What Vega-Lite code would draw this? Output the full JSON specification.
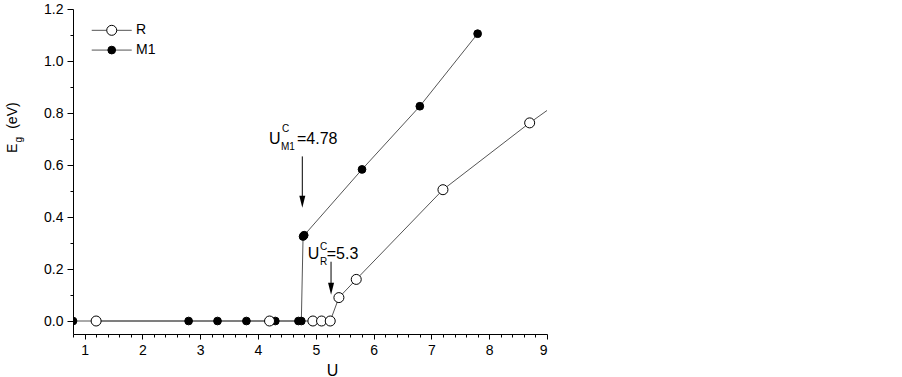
{
  "$schema": "https://vega.github.io/schema/vega-lite/v6.json",
  "width": 474,
  "height": 325,
  "autosize": {"type": "none"},
  "padding": {"left": 73, "top": 9, "right": 355, "bottom": 43},
  "background": "white",
  "config": {
    "view": {"stroke": null},
    "font": "Liberation Sans",
    "axis": {
      "grid": false,
      "domainColor": "#000",
      "tickColor": "#000",
      "labelColor": "#000",
      "titleColor": "#000",
      "labelFont": "Liberation Sans",
      "titleFont": "Liberation Sans",
      "labelFontSize": 14,
      "domainWidth": 1,
      "tickWidth": 1
    }
  },
  "datasets": {
    "main": [
      {"series": "M1", "x": 0.8, "y": 0},
      {"series": "M1", "x": 2.8, "y": 0},
      {"series": "M1", "x": 3.3, "y": 0},
      {"series": "M1", "x": 3.8, "y": 0},
      {"series": "M1", "x": 4.3, "y": 0},
      {"series": "M1", "x": 4.7, "y": 0},
      {"series": "M1", "x": 4.75, "y": 0},
      {"series": "M1", "x": 4.78, "y": 0.325},
      {"series": "M1", "x": 4.8, "y": 0.33},
      {"series": "M1", "x": 5.8, "y": 0.583},
      {"series": "M1", "x": 6.8, "y": 0.826},
      {"series": "M1", "x": 7.8, "y": 1.105},
      {"series": "R", "x": 1.2, "y": 0},
      {"series": "R", "x": 4.2, "y": 0},
      {"series": "R", "x": 4.95, "y": 0},
      {"series": "R", "x": 5.1, "y": 0},
      {"series": "R", "x": 5.25, "y": 0},
      {"series": "R", "x": 5.4, "y": 0.09},
      {"series": "R", "x": 5.7, "y": 0.16},
      {"series": "R", "x": 7.2, "y": 0.505},
      {"series": "R", "x": 8.7, "y": 0.762},
      {"series": "R", "x": 10.2, "y": 1.0}
    ]
  },
  "resolve": {"axis": {"x": "independent", "y": "independent"}},
  "layer": [
    {
      "data": {"name": "main"},
      "mark": {"type": "line", "color": "#555", "strokeWidth": 1, "clip": true},
      "encoding": {
        "x": {"field": "x", "type": "quantitative", "scale": {"domain": [0.8, 9], "nice": false, "zero": false},
          "axis": {"orient": "bottom", "values": [1, 2, 3, 4, 5, 6, 7, 8, 9], "tickSize": 5, "labelPadding": 4,
            "title": "U", "titleFontSize": 16, "titleFontWeight": "normal", "titleX": 259, "titleY": 41, "titleBaseline": "alphabetic"}},
        "y": {"field": "y", "type": "quantitative", "scale": {"domain": [-0.05, 1.2], "nice": false, "zero": false},
          "axis": {"orient": "left", "values": [0, 0.2, 0.4, 0.6, 0.8, 1.0, 1.2], "format": ".1f", "tickSize": 6, "labelPadding": 4, "title": null}},
        "detail": {"field": "series"}
      }
    },
    {
      "data": {"name": "main"},
      "mark": {"type": "point", "filled": true, "stroke": "#000", "strokeWidth": 1, "opacity": 1, "clip": true},
      "encoding": {
        "x": {"field": "x", "type": "quantitative", "scale": {"domain": [0.8, 9], "nice": false, "zero": false},
          "axis": {"orient": "bottom", "values": [0.8, 1.2, 1.4, 1.6, 1.8, 2.2, 2.4, 2.6, 2.8, 3.2, 3.4, 3.6, 3.8, 4.2, 4.4, 4.6, 4.8, 5.2, 5.4, 5.6, 5.8, 6.2, 6.4, 6.6, 6.8, 7.2, 7.4, 7.6, 7.8, 8.2, 8.4, 8.6, 8.8], "tickSize": 3, "labels": false, "domain": false, "title": null}},
        "y": {"field": "y", "type": "quantitative", "scale": {"domain": [-0.05, 1.2], "nice": false, "zero": false},
          "axis": {"orient": "left", "values": [0.1, 0.3, 0.5, 0.7, 0.9, 1.1], "tickSize": 3, "labels": false, "domain": false, "title": null}},
        "fill": {"field": "series", "type": "nominal", "scale": {"domain": ["R", "M1"], "range": ["#ffffff", "#000000"]}, "legend": null},
        "size": {"field": "series", "type": "nominal", "scale": {"domain": ["R", "M1"], "range": [100, 60]}, "legend": null}
      }
    },
    {
      "data": {"values": [
        {"x": 4.767, "y": 0.633, "y2": 0.459},
        {"x": 5.264, "y": 0.228, "y2": 0.124}
      ]},
      "mark": {"type": "rule", "color": "#000", "strokeWidth": 1},
      "encoding": {
        "x": {"field": "x", "type": "quantitative", "scale": {"domain": [0.8, 9], "nice": false, "zero": false}, "axis": null},
        "y": {"field": "y", "type": "quantitative", "scale": {"domain": [-0.05, 1.2], "nice": false, "zero": false}, "axis": null},
        "y2": {"field": "y2"}
      }
    },
    {
      "data": {"values": [
        {"x": 4.767, "y": 0.459},
        {"x": 5.264, "y": 0.124}
      ]},
      "mark": {"type": "point", "shape": "M-0.5,-1L0.5,-1L0,1Z", "filled": true, "color": "#000", "opacity": 1, "size": 144},
      "encoding": {
        "x": {"field": "x", "type": "quantitative", "scale": {"domain": [0.8, 9], "nice": false, "zero": false}, "axis": null},
        "y": {"field": "y", "type": "quantitative", "scale": {"domain": [-0.05, 1.2], "nice": false, "zero": false}, "axis": null}
      }
    },
    {
      "data": {"values": [
        {"x": 4.191, "y": 0.68, "t": "U"},
        {"x": 4.675, "y": 0.68, "t": "=4.78"},
        {"x": 4.86, "y": 0.239, "t": "U"},
        {"x": 5.189, "y": 0.239, "t": "=5.3"}
      ]},
      "mark": {"type": "text", "align": "left", "baseline": "alphabetic", "fontSize": 16, "color": "#000", "font": "Liberation Sans"},
      "encoding": {
        "x": {"field": "x", "type": "quantitative", "scale": {"domain": [0.8, 9], "nice": false, "zero": false}, "axis": null},
        "y": {"field": "y", "type": "quantitative", "scale": {"domain": [-0.05, 1.2], "nice": false, "zero": false}, "axis": null},
        "text": {"field": "t"}
      }
    },
    {
      "data": {"values": [
        {"x": 4.416, "y": 0.726, "t": "C"},
        {"x": 4.399, "y": 0.656, "t": "M1"},
        {"x": 5.073, "y": 0.274, "t": "C"},
        {"x": 5.073, "y": 0.216, "t": "R"}
      ]},
      "mark": {"type": "text", "align": "left", "baseline": "alphabetic", "fontSize": 10, "color": "#000", "font": "Liberation Sans"},
      "encoding": {
        "x": {"field": "x", "type": "quantitative", "scale": {"domain": [0.8, 9], "nice": false, "zero": false}, "axis": null},
        "y": {"field": "y", "type": "quantitative", "scale": {"domain": [-0.05, 1.2], "nice": false, "zero": false}, "axis": null},
        "text": {"field": "t"}
      }
    },
    {
      "data": {"values": [
        {"series": "R", "x": 1.124, "x2": 1.816, "y": 1.118},
        {"series": "M1", "x": 1.124, "x2": 1.816, "y": 1.042}
      ]},
      "mark": {"type": "rule", "color": "#555", "strokeWidth": 1},
      "encoding": {
        "x": {"field": "x", "type": "quantitative", "scale": {"domain": [0.8, 9], "nice": false, "zero": false}, "axis": null},
        "x2": {"field": "x2"},
        "y": {"field": "y", "type": "quantitative", "scale": {"domain": [-0.05, 1.2], "nice": false, "zero": false}, "axis": null}
      }
    },
    {
      "data": {"values": [
        {"series": "R", "x": 1.47, "y": 1.118},
        {"series": "M1", "x": 1.47, "y": 1.042}
      ]},
      "mark": {"type": "point", "filled": true, "stroke": "#000", "strokeWidth": 1, "opacity": 1},
      "encoding": {
        "x": {"field": "x", "type": "quantitative", "scale": {"domain": [0.8, 9], "nice": false, "zero": false}, "axis": null},
        "y": {"field": "y", "type": "quantitative", "scale": {"domain": [-0.05, 1.2], "nice": false, "zero": false}, "axis": null},
        "fill": {"field": "series", "type": "nominal", "scale": {"domain": ["R", "M1"], "range": ["#ffffff", "#000000"]}, "legend": null},
        "size": {"field": "series", "type": "nominal", "scale": {"domain": ["R", "M1"], "range": [100, 60]}, "legend": null}
      }
    },
    {
      "data": {"values": [
        {"x": 1.89, "y": 1.118, "t": "R"},
        {"x": 1.89, "y": 1.042, "t": "M1"}
      ]},
      "mark": {"type": "text", "align": "left", "baseline": "middle", "fontSize": 14, "color": "#000", "font": "Liberation Sans"},
      "encoding": {
        "x": {"field": "x", "type": "quantitative", "scale": {"domain": [0.8, 9], "nice": false, "zero": false}, "axis": null},
        "y": {"field": "y", "type": "quantitative", "scale": {"domain": [-0.05, 1.2], "nice": false, "zero": false}, "axis": null},
        "text": {"field": "t"}
      }
    },
    {
      "data": {"values": [
        {"x": -0.238, "y": 0.664, "t": "E"},
        {"x": -0.238, "y": 0.79, "t": "(eV)"}
      ]},
      "mark": {"type": "text", "align": "center", "baseline": "middle", "angle": 270, "fontSize": 14, "color": "#000", "font": "Liberation Sans"},
      "encoding": {
        "x": {"field": "x", "type": "quantitative", "scale": {"domain": [0.8, 9], "nice": false, "zero": false}, "axis": null},
        "y": {"field": "y", "type": "quantitative", "scale": {"domain": [-0.05, 1.2], "nice": false, "zero": false}, "axis": null},
        "text": {"field": "t"}
      }
    },
    {
      "data": {"values": [
        {"x": -0.13, "y": 0.697, "t": "g"}
      ]},
      "mark": {"type": "text", "align": "center", "baseline": "middle", "angle": 270, "fontSize": 10, "color": "#000", "font": "Liberation Sans"},
      "encoding": {
        "x": {"field": "x", "type": "quantitative", "scale": {"domain": [0.8, 9], "nice": false, "zero": false}, "axis": null},
        "y": {"field": "y", "type": "quantitative", "scale": {"domain": [-0.05, 1.2], "nice": false, "zero": false}, "axis": null},
        "text": {"field": "t"}
      }
    }
  ]
}
